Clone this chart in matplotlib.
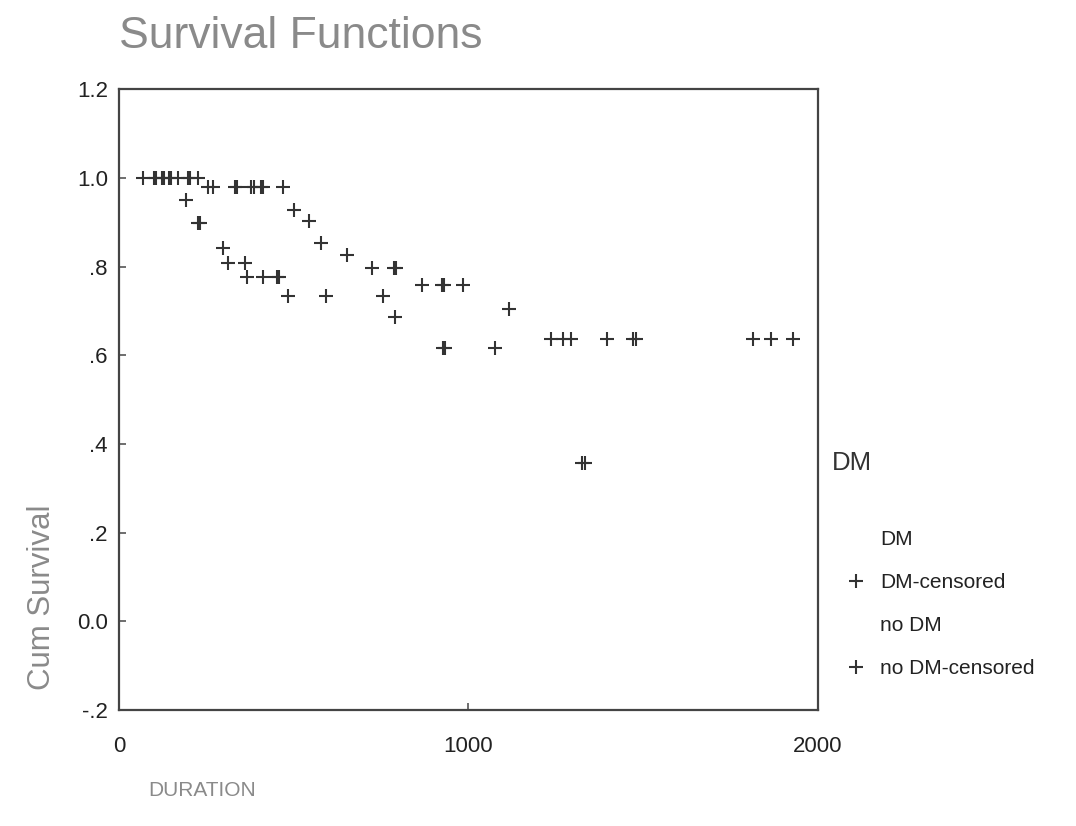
import matplotlib
matplotlib.use("Agg")
import matplotlib.pyplot as plt
from matplotlib.lines import Line2D

plt.rcParams['font.family'] = ['Liberation Sans', 'DejaVu Sans']

nodm_time = [69, 100, 106, 123, 129, 143, 149, 169, 197, 203, 226,
             255, 269, 331, 339, 378, 385, 405, 413, 469,
             501, 544, 578, 652, 724, 786, 794, 867, 923, 931, 984,
             1116, 1236, 1270, 1293, 1396, 1472, 1480, 1814, 1866, 1928]
nodm_surv = [1.0] * 11 + [0.98] * 9 + \
            [0.928, 0.903, 0.853, 0.826, 0.797, 0.797, 0.797, 0.758, 0.758, 0.758, 0.758,
             0.704, 0.636, 0.636, 0.636, 0.636, 0.636, 0.636, 0.636, 0.636, 0.636]

dm_time = [192, 225, 233, 297, 312, 360, 366, 412, 451, 459,
           483, 592, 755, 790, 926, 934, 1076, 1324, 1332]
dm_surv = [0.95, 0.898, 0.898, 0.842, 0.808, 0.808, 0.777, 0.777, 0.777, 0.777,
           0.734, 0.734, 0.734, 0.686, 0.616, 0.616, 0.616, 0.357, 0.357]

y_ticks = [-0.2, 0.0, 0.2, 0.4, 0.6, 0.8, 1.0, 1.2]
y_labels = ['-.2', '0.0', '.2', '.4', '.6', '.8', '1.0', '1.2']
x_ticks = [0, 1000, 2000]

fig = plt.figure(figsize=(10.76, 8.26), dpi=100)
ax = fig.add_axes([0.1106, 0.1404, 0.6496, 0.7516])

mk = dict(marker='+', linestyle='none', color='#333333', markersize=10, markeredgewidth=1.5)
ax.plot(dm_time, dm_surv, **mk)
ax.plot(nodm_time, nodm_surv, **mk)

ax.set_xlim(0, 2000)
ax.set_ylim(-0.2, 1.2)
ax.set_xticks(x_ticks)
ax.set_yticks(y_ticks)
ax.set_yticklabels(y_labels)
ax.tick_params(direction='in', length=5, width=1.2, colors='#555555',
               labelcolor='#222222', labelsize=16)
ax.tick_params(axis='y', pad=8)
ax.tick_params(axis='x', pad=19)
for s in ax.spines.values():
    s.set_color('#444444')
    s.set_linewidth(1.6)

fig.text(0.1106, 0.956, 'Survival Functions', fontsize=32, color='#8a8a8a',
         ha='left', va='center')
fig.text(0.039, 0.277, 'Cum Survival', fontsize=22.5, color='#8a8a8a',
         rotation=90, ha='center', va='center')
fig.text(0.1375, 0.043, 'DURATION', fontsize=15, color='#8a8a8a',
         ha='left', va='center')

handles = [
    Line2D([], [], color='white', linestyle='none'),
    Line2D([], [], **mk),
    Line2D([], [], color='white', linestyle='none'),
    Line2D([], [], **mk),
]
labels = ['DM', 'DM-censored', 'no DM', 'no DM-censored']
leg = fig.legend(handles, labels, title='DM', loc='upper left',
                 bbox_to_anchor=(0.7557, 0.477), frameon=False, fontsize=15,
                 labelspacing=1.15, handlelength=2.3, handletextpad=0.0,
                 title_fontsize=18.5)
leg._legend_box.align = 'left'
leg._legend_box.sep = 40
leg.get_title().set_color('#333333')
for t in leg.get_texts():
    t.set_color('#222222')

fig.savefig('out.png', dpi=100, facecolor='white')
